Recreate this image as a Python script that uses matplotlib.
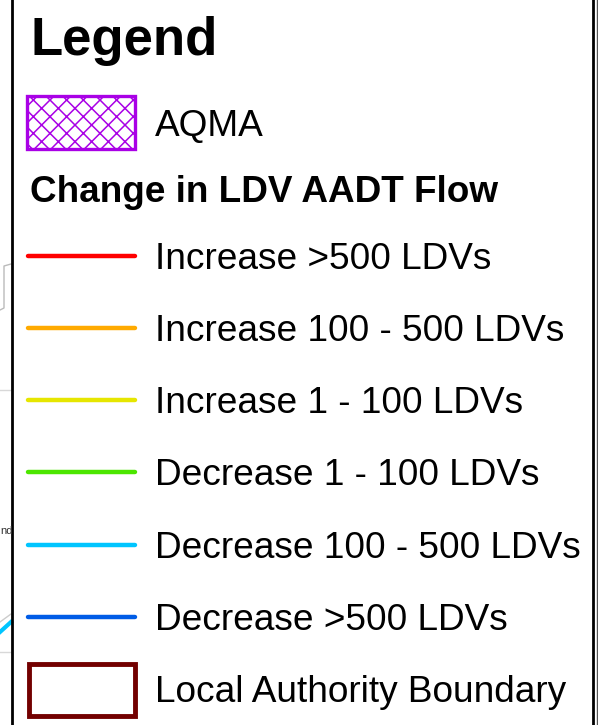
import matplotlib
matplotlib.use("Agg")
import matplotlib.pyplot as plt
from matplotlib.patches import Rectangle

plt.rcParams['font.family'] = ['Liberation Sans', 'DejaVu Sans']
plt.rcParams['hatch.linewidth'] = 1.1

title = "Legend"
aqma_label = "AQMA"
section_label = "Change in LDV AADT Flow"
line_labels = ["Increase >500 LDVs", "Increase 100 - 500 LDVs", "Increase 1 - 100 LDVs",
               "Decrease 1 - 100 LDVs", "Decrease 100 - 500 LDVs", "Decrease >500 LDVs"]
line_colors = ["#FF0000", "#FFAA00", "#E6E600", "#4CE600", "#00C5FF", "#005CE6"]
boundary_label = "Local Authority Boundary"
aqma_color = "#A900E6"
boundary_color = "#730000"

W, H = 598, 725
fig = plt.figure(figsize=(W / 100, H / 100), dpi=100)
ax = fig.add_axes([0, 0, 1, 1])
ax.set_xlim(0, W)
ax.set_ylim(H, 0)
ax.axis('off')

# faint map fragments outside the legend frame
ax.plot([0, 11], [390, 390], color="#d8d8d8", lw=1)
ax.plot([0, 11], [652, 652], color="#d8d8d8", lw=1)
ax.plot([0, 4, 4, 11], [310, 308, 266, 264], color="#bbbbbb", lw=1)
ax.plot([0, 11], [632, 622], color="#00C5FF", lw=3)
ax.plot([0, 11], [622, 614], color="#cccccc", lw=1)
ax.text(0.5, 531, "nd", fontsize=8, color="#333333", va='center', ha='left')

# frame
ax.plot([11.5, 11.5], [0, H], color="black", lw=2)
ax.plot([593, 593], [0, H], color="black", lw=2)
ax.plot([596.8, 596.8], [0, H], color="#555555", lw=1)

x_sym0, x_sym1 = 27, 135
x_text = 155
fs = 26.65

ax.text(30, 41, title, fontsize=38, fontweight='bold', va='center', ha='left')

ax.add_patch(Rectangle((x_sym0, 96), x_sym1 - x_sym0, 53, facecolor='white',
                       edgecolor=aqma_color, hatch='xx', lw=2.4))
ax.text(x_text, 126, aqma_label, fontsize=fs, va='center', ha='left')

ax.text(30, 192, section_label, fontsize=26.6, fontweight='bold', va='center', ha='left')

y_lines = [256, 328, 400, 472, 545, 617]
for lab, col, y in zip(line_labels, line_colors, y_lines):
    ax.plot([x_sym0 + 1, x_sym1], [y, y], color=col, lw=3.2, solid_capstyle='round')
    ax.text(x_text, y + 3, lab, fontsize=fs, va='center', ha='left')

ax.add_patch(Rectangle((x_sym0 + 1.5, 663.5), x_sym1 - x_sym0 - 2, 52, facecolor='none',
                       edgecolor=boundary_color, lw=3.5))
ax.text(x_text, 693, boundary_label, fontsize=fs, va='center', ha='left')

fig.savefig("out.png", dpi=100)
